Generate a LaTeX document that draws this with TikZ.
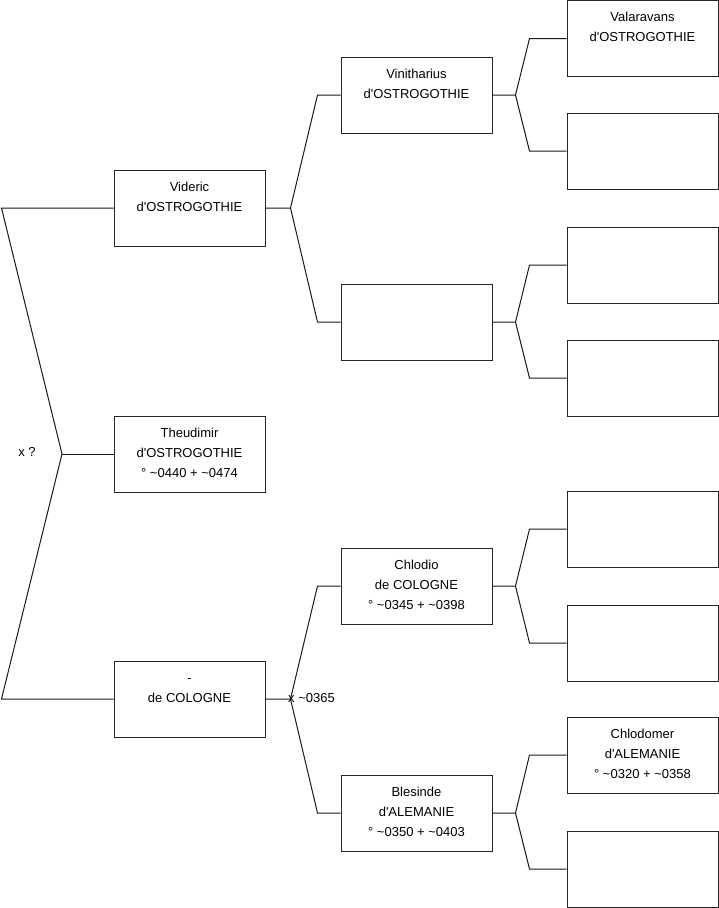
\documentclass[tikz,border=0pt]{standalone}
\usepackage{fontspec}
\setmainfont{Liberation Sans}
\usetikzlibrary{calc}
\newcommand{\famtext}[1]{\parbox[c][76pt][t]{151pt}{\centering\fontsize{13}{20}\selectfont\rule{0pt}{21pt}#1\par}}
\newcommand{\tl}{\textasciitilde}
\newcommand{\ap}{\textquotesingle}
\begin{document}
\begin{tikzpicture}[x=1pt,y=-1pt,
  fam/.style={draw=black!85, line width=1pt, rectangle, minimum width=151pt, minimum height=76pt, inner sep=0pt},
  conn/.style={line width=1pt, black!90},
  lbl/.style={inner sep=0pt, font=\fontsize{13}{16}\selectfont}]
\useasboundingbox (0,0) rectangle (719,908);
% column 1
\node[fam] (vid) at (189.5,208) {\famtext{Videric\\d\ap OSTROGOTHIE}};
\node[fam] (the) at (189.5,454) {\famtext{Theudimir\\d\ap OSTROGOTHIE\\° \tl0440 + \tl0474}};
\node[fam] (col) at (189.5,699) {\famtext{-\\de COLOGNE}};
% column 2
\node[fam] (vin) at (416.5,95) {\famtext{Vinitharius\\d\ap OSTROGOTHIE}};
\node[fam] (e2) at (416.5,322) {\famtext{}};
\node[fam] (chl) at (416.5,586) {\famtext{Chlodio\\de COLOGNE\\° \tl0345 + \tl0398}};
\node[fam] (ble) at (416.5,813) {\famtext{Blesinde\\d\ap ALEMANIE\\° \tl0350 + \tl0403}};
% column 3
\node[fam] (val) at (642.5,38.5) {\famtext{Valaravans\\d\ap OSTROGOTHIE}};
\node[fam] (e3b) at (642.5,151) {\famtext{}};
\node[fam] (e3c) at (642.5,265) {\famtext{}};
\node[fam] (e3d) at (642.5,378) {\famtext{}};
\node[fam] (e3e) at (642.5,529) {\famtext{}};
\node[fam] (e3f) at (642.5,643) {\famtext{}};
\node[fam] (cho) at (642.5,755) {\famtext{Chlodomer\\d\ap ALEMANIE\\° \tl0320 + \tl0358}};
\node[fam] (e3h) at (642.5,869) {\famtext{}};
% left bracket
\coordinate (f0) at (62,454);
\draw[conn] (vid.west) -- ++(-112,0) -- (f0) -- ($(col.west)+(-112,0)$) -- (col.west);
\draw[conn] (f0) -- (the.west);
\node[lbl] (xq) at (27,452) {x ?};
% column 1 -> 2
\draw[conn] (vin.west) -- ++(-23,0) -- ($(vid.east)+(25,0)$) -- (vid.east);
\draw[conn] (e2.west) -- ++(-23,0) -- ($(vid.east)+(25,0)$);
\draw[conn] (chl.west) -- ++(-23,0) -- ($(col.east)+(25,0)$) -- (col.east);
\draw[conn] (ble.west) -- ++(-23,0) -- ($(col.east)+(25,0)$);
\node[lbl, anchor=west] (xm) at (288,698) {x \tl0365};
% column 2 -> 3
\draw[conn] (val.west) -- ++(-37,0) -- ($(vin.east)+(23,0)$) -- (vin.east);
\draw[conn] (e3b.west) -- ++(-37,0) -- ($(vin.east)+(23,0)$);
\draw[conn] (e3c.west) -- ++(-37,0) -- ($(e2.east)+(23,0)$) -- (e2.east);
\draw[conn] (e3d.west) -- ++(-37,0) -- ($(e2.east)+(23,0)$);
\draw[conn] (e3e.west) -- ++(-37,0) -- ($(chl.east)+(23,0)$) -- (chl.east);
\draw[conn] (e3f.west) -- ++(-37,0) -- ($(chl.east)+(23,0)$);
\draw[conn] (cho.west) -- ++(-37,0) -- ($(ble.east)+(23,0)$) -- (ble.east);
\draw[conn] (e3h.west) -- ++(-37,0) -- ($(ble.east)+(23,0)$);
\end{tikzpicture}
\end{document}
